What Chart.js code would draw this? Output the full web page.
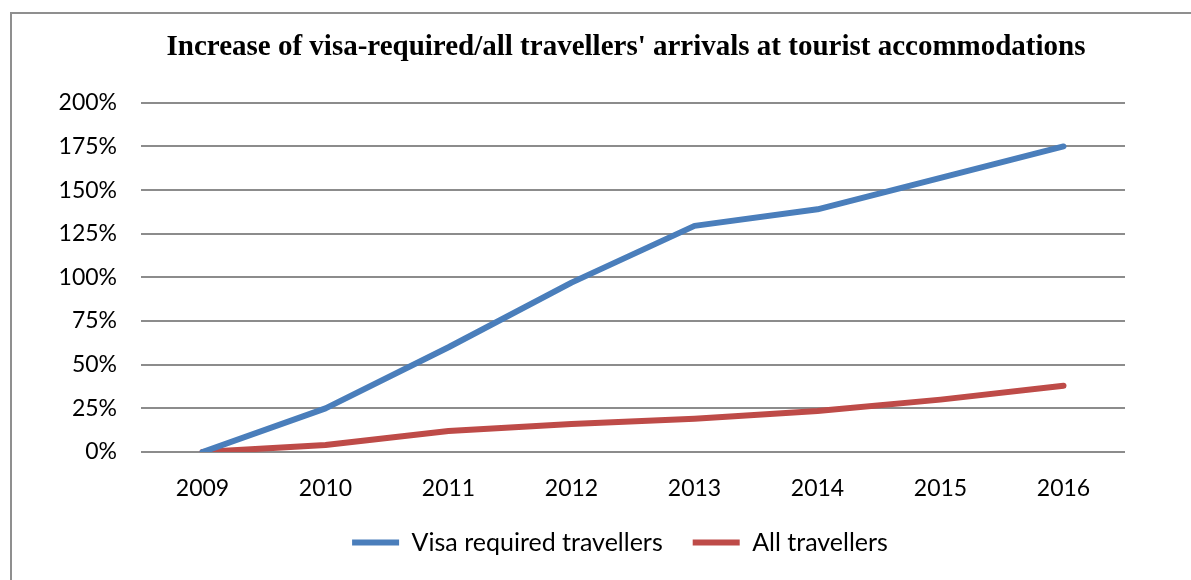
<!DOCTYPE html>
<html>
<head>
<meta charset="utf-8">
<script src="https://cdn.jsdelivr.net/npm/chart.js@4"></script>
<style>
  html, body { margin: 0; padding: 0; background: #fff; overflow: hidden; width: 1191px; height: 580px; }
  #frame { position: absolute; left: 10px; top: 12px; width: 1300px; height: 700px; border: 2px solid #8f8f8f; box-sizing: border-box; }
  #wrap { position: absolute; left: 0; top: 0; width: 1191px; height: 580px; }
</style>
</head>
<body>
<div id="frame"></div>
<div id="wrap"><canvas id="c" width="1191" height="580"></canvas></div>
<script>
const years = ['2009', '2010', '2011', '2012', '2013', '2014', '2015', '2016'];
const visaRequired = [0, 25, 60, 97, 129.5, 139, 157, 175];
const allTravellers = [0, 4, 12, 16, 19, 23.5, 30, 38];
const yTicks = [0, 25, 50, 75, 100, 125, 150, 175, 200];
const titleText = "Increase of visa-required/all travellers' arrivals at tourist accommodations";
const seriesNames = ['Visa required travellers', 'All travellers'];

const tickFont = { family: 'Lato', size: 23 };
const legendFont = { family: 'Lato', size: 25 };

// shift title / legend centring to match the original layout
const recentre = {
  id: 'recentre',
  afterLayout(chart) {
    if (chart.titleBlock) { chart.titleBlock.left = 127; chart.titleBlock.right = 1125; }
    if (chart.legend) { chart.legend.left = 115; chart.legend.right = 1125; }
  }
};

new Chart(document.getElementById('c'), {
  type: 'line',
  data: {
    labels: years,
    datasets: [
      { label: seriesNames[0], data: visaRequired, borderColor: '#4a7ebb', backgroundColor: '#4a7ebb',
        borderWidth: 6, pointRadius: 0, tension: 0, borderCapStyle: 'round', borderJoinStyle: 'round', pointStyle: 'line' },
      { label: seriesNames[1], data: allTravellers, borderColor: '#be4b48', backgroundColor: '#be4b48',
        borderWidth: 6, pointRadius: 0, tension: 0, borderCapStyle: 'round', borderJoinStyle: 'round', pointStyle: 'line' }
    ]
  },
  plugins: [recentre],
  options: {
    responsive: false,
    animation: false,
    devicePixelRatio: 1,
    layout: { padding: { left: 40, right: 66, top: 0, bottom: 15 } },
    plugins: {
      title: {
        display: true,
        text: titleText,
        color: '#000',
        font: { family: 'Liberation Serif', size: 29, weight: 'bold' },
        padding: { top: 30, bottom: 38 }
      },
      legend: {
        position: 'bottom',
        labels: {
          usePointStyle: true,
          pointStyle: 'line',
          pointStyleWidth: 47,
          boxHeight: 6,
          padding: 30,
          color: '#000',
          font: legendFont
        }
      },
      tooltip: { enabled: false }
    },
    scales: {
      x: {
        offset: true,
        grid: { display: false, drawTicks: false },
        border: { display: false },
        ticks: { color: '#000', font: tickFont, padding: 23, maxRotation: 0 },
        afterFit: (s) => { s.height = 48; }
      },
      y: {
        min: 0, max: 200,
        afterBuildTicks: (s) => { s.ticks = yTicks.map(v => ({ value: v })); },
        grid: { color: '#8c8c8c', lineWidth: 2, drawTicks: false },
        border: { display: false },
        ticks: { color: '#000', font: tickFont, padding: 24, callback: (v) => v + '%' },
        afterFit: (s) => { s.width = 101; }
      }
    }
  }
});
</script>
</body>
</html>
